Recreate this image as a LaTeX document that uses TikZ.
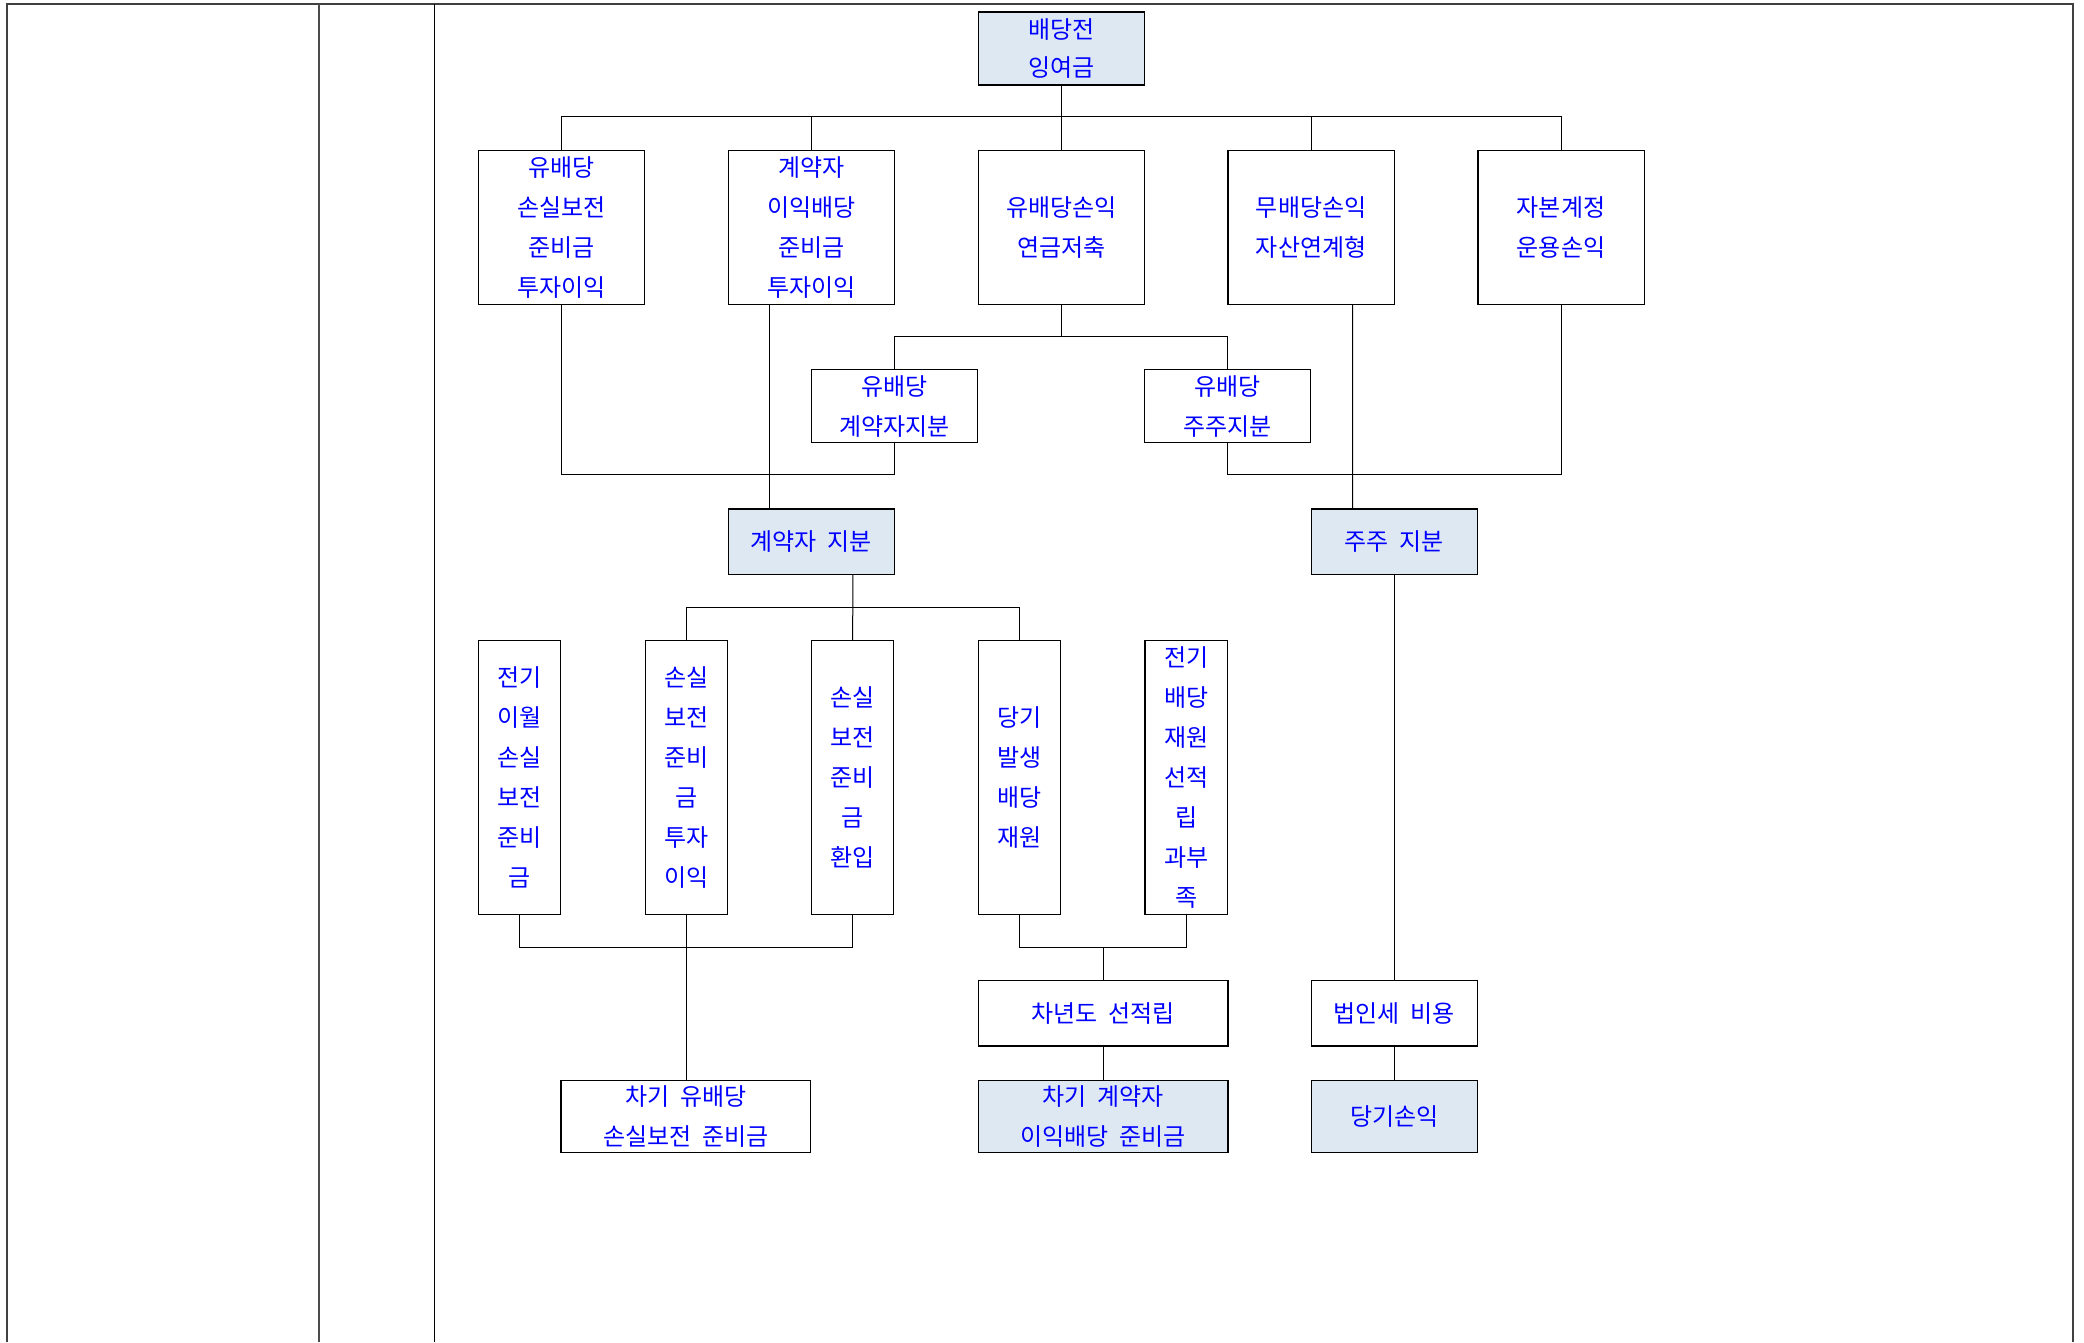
\documentclass[tikz,border=0pt]{standalone}
\usepackage{fontspec}
\usepackage{xcolor}
\usetikzlibrary{calc}
\newfontfamily\kr{Noto Sans CJK KR}
\definecolor{txtblue}{RGB}{0,0,255}
\definecolor{boxblue}{RGB}{222,232,243}

\begin{document}
\begin{tikzpicture}[x=0.6645pt, y=-0.6645pt]
\tikzset{BoxStyle/.style = {draw, rectangle, line width=0.6pt, inner sep=0pt, outer sep=0pt,
    align=center, text=txtblue, font=\kr\fontsize{12}{20}\selectfont}}
\tikzset{FillStyle/.style = {BoxStyle, fill=boxblue}}
\tikzset{EdgeStyle/.style = {line width=0.5pt}}
\tikzset{wide/.style = {minimum width=83.1pt}, narrow/.style = {minimum width=41.2pt},
    long/.style = {minimum width=124.9pt}}
  \useasboundingbox (0,0) rectangle (1568,1010);

  % frame of the table
  \draw[line width=1pt, black!75] (5,1010) -- (5,3) -- (1560,3) -- (1560,1010);
  \draw[line width=0.8pt, black!70] (240,3) -- (240,1010);
  \draw[line width=0.8pt] (327,3) -- (327,1010);

  \node[FillStyle, wide, minimum height=36.5pt, font=\kr\fontsize{12}{19}\selectfont] (top) at (798.5,36.5) {배당전\\잉여금};

  \node[BoxStyle, wide, minimum height=77.1pt] (a1) at (422.5,171) {유배당\\손실보전\\준비금\\투자이익};
  \node[BoxStyle, wide, minimum height=77.1pt] (a2) at (610.5,171) {계약자\\이익배당\\준비금\\투자이익};
  \node[BoxStyle, wide, minimum height=77.1pt] (a3) at (798.5,171) {유배당손익\\연금저축};
  \node[BoxStyle, wide, minimum height=77.1pt] (a4) at (986.5,171) {무배당손익\\자산연계형};
  \node[BoxStyle, wide, minimum height=77.1pt] (a5) at (1174.5,171) {자본계정\\운용손익};

  \node[BoxStyle, wide, minimum height=36.5pt] (b1) at (673,305.5) {유배당\\계약자지분};
  \node[BoxStyle, wide, minimum height=36.5pt] (b2) at (923.5,305.5) {유배당\\주주지분};

  \node[FillStyle, wide, minimum height=32.6pt] (pol) at (610.5,407.5) {계약자~~지분};
  \node[FillStyle, wide, minimum height=32.6pt] (sh) at (1049,407.5) {주주~~지분};

  \node[BoxStyle, narrow, minimum height=136.9pt] (c1) at (391,585) {전기\\이월\\손실\\보전\\준비\\금};
  \node[BoxStyle, narrow, minimum height=136.9pt] (c2) at (516.5,585) {손실\\보전\\준비\\금\\투자\\이익};
  \node[BoxStyle, narrow, minimum height=136.9pt] (c3) at (641.5,585) {손실\\보전\\준비\\금\\환입};
  \node[BoxStyle, narrow, minimum height=136.9pt] (c4) at (767,585) {당기\\발생\\배당\\재원};
  \node[BoxStyle, narrow, minimum height=136.9pt] (c5) at (892.5,585) {전기\\배당\\재원\\선적\\립\\과부\\족};

  \node[BoxStyle, long, minimum height=32.6pt] (pre) at (830,762.5) {차년도~~선적립};
  \node[FillStyle, long, minimum height=35.9pt] (res) at (830,840) {차기~~계약자\\이익배당~~준비금};
  \node[BoxStyle, long, minimum height=35.9pt] (loss) at (516,840) {차기~~유배당\\손실보전~~준비금};
  \node[BoxStyle, wide, minimum height=32.6pt] (tax) at (1049,762.5) {법인세~~비용};
  \node[FillStyle, wide, minimum height=35.9pt] (net) at (1049,840) {당기손익};

  \coordinate (j1) at (798.5,88);
  \coordinate (j2) at (798.5,253);
  \coordinate (j3) at (673,357);
  \coordinate (j4) at (1174.5,357);
  \coordinate (j5) at (641.5,457);
  \coordinate (j6) at (516.5,713);
  \coordinate (j7) at (830,713);

  \draw[EdgeStyle] (top) -- (a3);
  \draw[EdgeStyle] (a1.north) |- (j1) -| (a5.north);
  \draw[EdgeStyle] (a2.north) -- (a2.north |- j1);
  \draw[EdgeStyle] (a4.north) -- (a4.north |- j1);

  \draw[EdgeStyle] (a3.south) -- (j2);
  \draw[EdgeStyle] (b1.north) |- (j2) -| (b2.north);

  \draw[EdgeStyle] (a1.south) |- (j3) -- (b1.south);
  \draw[EdgeStyle] (b2.south) |- (j4) -- (a5.south);
  \draw[EdgeStyle] ($(a2.south west)!0.25!(a2.south east)$) -- ($(pol.north west)!0.25!(pol.north east)$);
  \draw[EdgeStyle] ($(a4.south west)!0.75!(a4.south east)$) -- ($(sh.north west)!0.25!(sh.north east)$);

  \draw[EdgeStyle] ($(pol.south west)!0.75!(pol.south east)$) -- (c3.north);
  \draw[EdgeStyle] (c2.north) |- (j5) -| (c4.north);

  \draw[EdgeStyle] (c1.south) |- (j6) -| (c3.south);
  \draw[EdgeStyle] (c2.south) -- (c2.south |- loss.north);
  \draw[EdgeStyle] (c4.south) |- (j7) -| (c5.south);
  \draw[EdgeStyle] (j7) -- (pre.north);
  \draw[EdgeStyle] (pre) -- (res);

  \draw[EdgeStyle] (sh) -- (tax);
  \draw[EdgeStyle] (tax) -- (net);
\end{tikzpicture}
\end{document}
